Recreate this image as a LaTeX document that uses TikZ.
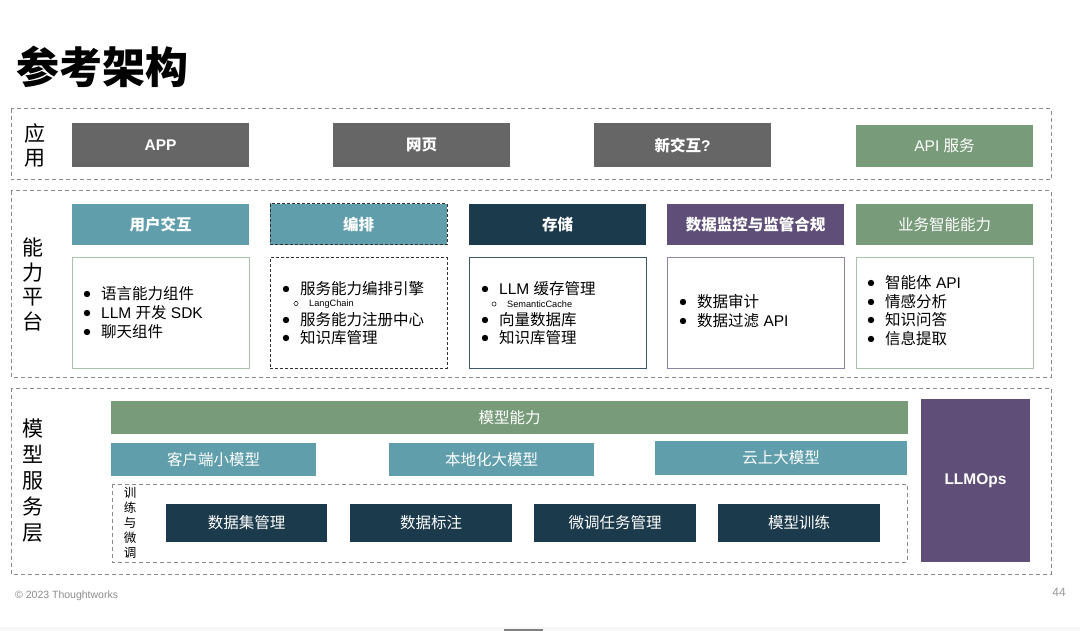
\documentclass[tikz,border=0pt]{standalone}
\usepackage{fontspec}
\setmainfont{Liberation Sans}
\newfontfamily\cjk{Noto Sans CJK SC}
\newcommand\C[1]{{\cjk #1}}
\definecolor{appgray}{HTML}{666666}
\definecolor{tgreen}{HTML}{789B7A}
\definecolor{tteal}{HTML}{5F9EAA}
\definecolor{tnavy}{HTML}{1B3A4B}
\definecolor{tpurple}{HTML}{5F4F78}
\definecolor{dashgray}{HTML}{8A8A8A}
\definecolor{lgreen}{HTML}{A9C5AA}
\definecolor{bnavy}{HTML}{3A5868}
\definecolor{bpurple}{HTML}{9083AA}
\definecolor{footgray}{HTML}{8C8C8C}
\tikzset{
  layer/.style={draw=dashgray, dash pattern=on 4pt off 3pt, line width=1pt},
  blk/.style={anchor=north west, inner sep=0pt, outer sep=0pt, text=white, font=\fontsize{15.5}{18}\selectfont},
  boldblk/.style={blk, font=\fontsize{15.5}{18}\selectfont\bfseries},
  panel/.style={anchor=north west, inner sep=0pt, outer sep=0pt, fill=white, line width=1pt},
  item/.style={anchor=base west, inner sep=0pt, font=\fontsize{15.5}{18}\selectfont},
  subitem/.style={anchor=base west, inner sep=0pt, font=\fontsize{9.2}{11}\selectfont},
  vlabel/.style={align=center, inner sep=0pt, font=\cjk\fontsize{21}{24.5}\selectfont},
}
\newcommand\itm[4]{\fill (#1-14,#2) circle (3.2);
  \node[item] (#4) at (#1,#2+5.6) {#3};}
\newcommand\subitm[4]{\draw[line width=0.5pt] (#1-13,#2) circle (2.1);
  \node[subitem] (#4) at (#1,#2+3.3) {#3};}
\begin{document}
\begin{tikzpicture}[x=1pt,y=-1pt]
\useasboundingbox (0,0) rectangle (1080,631);
% bottom strip
\fill[white] (0,0) rectangle (1080,631);
\fill[black!3] (0,627) rectangle (1080,631);
\fill[black!50] (504,629.3) rectangle (543,631);
% title
\node[anchor=west, inner sep=0pt] (title) at (16,67) {\cjk\bfseries\fontsize{43}{50}\selectfont 参考架构};
% layers
\draw[layer] (11,109) rectangle (1051,180);
\draw[layer] (11,191) rectangle (1051,377);
\draw[layer] (11,388) rectangle (1051,574);
% layer labels
\node[vlabel, font=\cjk\fontsize{21}{24}\selectfont] (lapp) at (35,145) {应\\用};
\node[vlabel] (lplat) at (33,284.5) {能\\力\\平\\台};
\node[vlabel, font=\cjk\fontsize{21}{26}\selectfont] (lmodel) at (33,481) {模\\型\\服\\务\\层};
% application row
\node[boldblk, fill=appgray, minimum width=177, minimum height=44] (app) at (72,123) {APP};
\node[boldblk, fill=appgray, minimum width=177, minimum height=44] (web) at (333,123) {\C{网页}};
\node[boldblk, fill=appgray, minimum width=177, minimum height=44] (newi) at (594,123) {\C{新交互}?};
\node[blk, fill=tgreen, minimum width=177, minimum height=42] (api) at (856,125) {API \C{服务}};
% platform headers
\node[boldblk, fill=tteal, minimum width=177, minimum height=41] (ux) at (72,204) {\C{用户交互}};
\node[boldblk, fill=tteal, draw=black!80, dash pattern=on 3pt off 2pt, line width=1pt, minimum width=177, minimum height=41] (orch) at (270,204) {\C{编排}};
\node[boldblk, fill=tnavy, minimum width=177, minimum height=41] (store) at (469,204) {\C{存储}};
\node[boldblk, fill=tpurple, minimum width=177, minimum height=41] (mon) at (667,204) {\C{数据监控与监管合规}};
\node[blk, fill=tgreen, minimum width=177, minimum height=41] (biz) at (856,204) {\C{业务智能能力}};
% platform panels
\node[panel, draw=lgreen, minimum width=177, minimum height=110] (c1) at (72,258) {};
\node[panel, draw=black!80, dash pattern=on 3pt off 2pt, minimum width=177, minimum height=110] (c2) at (270,258) {};
\node[panel, draw=bnavy, minimum width=177, minimum height=110] (c3) at (469,258) {};
\node[panel, draw=bpurple, minimum width=177, minimum height=110] (c4) at (667,258) {};
\node[panel, draw=lgreen, minimum width=177, minimum height=110] (c5) at (856,258) {};
% panel items
\itm{101}{294}{\C{语言能力组件}}{i11}
\itm{101}{313}{LLM \C{开发} SDK}{i12}
\itm{101}{332}{\C{聊天组件}}{i13}
\itm{300}{289}{\C{服务能力编排引擎}}{i21}
\subitm{309}{303.5}{LangChain}{i22}
\itm{300}{320}{\C{服务能力注册中心}}{i23}
\itm{300}{338}{\C{知识库管理}}{i24}
\itm{499}{289}{LLM \C{缓存管理}}{i31}
\subitm{507}{304}{SemanticCache}{i32}
\itm{499}{320}{\C{向量数据库}}{i33}
\itm{499}{338}{\C{知识库管理}}{i34}
\itm{697}{302}{\C{数据审计}}{i41}
\itm{697}{321}{\C{数据过滤} API}{i42}
\itm{885}{283}{\C{智能体} API}{i51}
\itm{885}{302}{\C{情感分析}}{i52}
\itm{885}{320}{\C{知识问答}}{i53}
\itm{885}{339}{\C{信息提取}}{i54}
% model service layer
\node[blk, fill=tgreen, minimum width=797, minimum height=33] (cap) at (111,401) {\C{模型能力}};
\node[blk, fill=tteal, minimum width=205, minimum height=33] (m1) at (111,443) {\C{客户端小模型}};
\node[blk, fill=tteal, minimum width=205, minimum height=33] (m2) at (389,443) {\C{本地化大模型}};
\node[blk, fill=tteal, minimum width=252, minimum height=34] (m3) at (655,441) {\C{云上大模型}};
\draw[layer] (112,484) rectangle (907,562);
\node[vlabel, font=\cjk\fontsize{12.5}{15}\selectfont] (ltrain) at (130,523) {训\\练\\与\\微\\调};
\node[blk, fill=tnavy, minimum width=161, minimum height=38] (t1) at (166,504) {\C{数据集管理}};
\node[blk, fill=tnavy, minimum width=162, minimum height=38] (t2) at (350,504) {\C{数据标注}};
\node[blk, fill=tnavy, minimum width=162, minimum height=38] (t3) at (534,504) {\C{微调任务管理}};
\node[blk, fill=tnavy, minimum width=162, minimum height=38] (t4) at (718,504) {\C{模型训练}};
\node[boldblk, fill=tpurple, minimum width=109, minimum height=163] (ops) at (921,399) {LLMOps};
% footer
\node[anchor=west, inner sep=0pt, text=footgray, font=\fontsize{10.5}{12}\selectfont] (foot) at (15,596) {© 2023 Thoughtworks};
\node[anchor=east, inner sep=0pt, text=black!40, font=\fontsize{12}{14}\selectfont] (page) at (1066,592) {44};
\end{tikzpicture}
\end{document}
